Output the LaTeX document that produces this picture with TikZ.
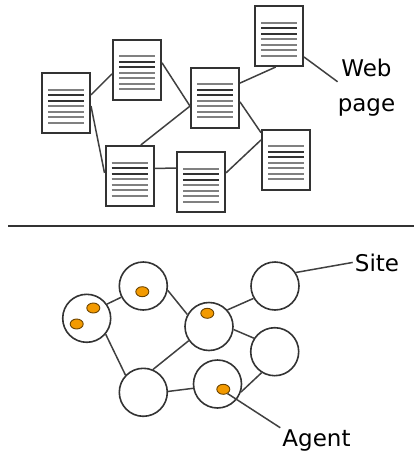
\documentclass[tikz,border=0pt]{standalone}
\usepackage{fontspec}
\setmainfont{DejaVu Sans}
\usepackage{tikz}
\usetikzlibrary{arrows.meta,positioning,calc,shapes.geometric}
\definecolor{Ink}{HTML}{333333}
\definecolor{Edge}{HTML}{404040}
\definecolor{RuleDark}{HTML}{333333}
\definecolor{RuleGray}{HTML}{808080}
\definecolor{Amber}{HTML}{F39A00}
\definecolor{AmberEdge}{HTML}{6B4300}

\tikzset{
  webpage/.style={draw=Ink,line width=2pt,fill=white,rectangle,
                  minimum width=48pt,minimum height=60pt,inner sep=0pt},
  site/.style={draw=Ink,line width=1.6pt,fill=white,circle,
               minimum size=48pt,inner sep=0pt},
  agent/.style={ellipse,draw=AmberEdge,line width=0.9pt,fill=Amber,
                minimum width=13pt,minimum height=10pt,inner sep=0pt},
  link/.style={draw=Edge,line width=1.5pt},
  label/.style={font=\fontsize{23}{35}\selectfont,text=black,inner sep=0pt}
}

\begin{document}
\begin{tikzpicture}[>=Latex,x=1pt,y=-1pt]
        \useasboundingbox (0,0) rectangle (414,455);
        % web pages
        \foreach \n/\x/\y in {d1/66/103,d2/137/69.5,d3/215/97.5,d4/129.5/176,
                              d5/201/182,d6/279/36,d7/286/159.5}{
          \node[webpage] (\n) at (\x,\y) {};
          \foreach \k/\c in {0/RuleGray,1/RuleDark,2/RuleDark,3/RuleGray,
                             4/RuleGray,5/RuleGray,6/RuleGray}{
            \draw[\c,line width=2pt]
                  ($(\n.north west)+(7,{17.5+5.55*\k})$) -- ++(36,0);
          }
        }
        \draw[link] (d1.18) -- (d2.190);
        \draw[link] (d1.-7) -- (d4.173);
        \draw[link] (d2.15) -- (d3.199);
        \draw[link] (d4.70) -- (d3.199);
        \draw[link] (d4.17) -- (d5.151);
        \draw[link] (d3.30) -- (d6.264);
        \draw[link] (d3.-10) -- (d7.133);
        \draw[link] (d5.20) -- (d7.142);
        \node[label,align=center] (web) at (366.5,87.75) {Web\\page};
        \draw[link] (d6.-40) -- ([yshift=6pt]web.west);
        % divider
        \draw[RuleDark,line width=2pt] (8,226) -- (414,226);
        % sites and agents
        \foreach \n/\x/\y in {c1/86.7/318.3,c2/143.3/286,c3/209/326.5,
                              c4/143.3/392.3,c5/217.5/384,c6/275/286,
                              c7/274.7/351.7}{
          \node[site] (\n) at (\x,\y) {};
        }
        \draw[link] (c1.35) -- (c2.207);
        \draw[link] (c1.-40) -- (c4.136);
        \draw[link] (c2.-10) -- (c3.151);
        \draw[link] (c4.67) -- (c3.215);
        \draw[link] (c4.2) -- (c5.190);
        \draw[link] (c3.42) -- (c6.210);
        \draw[link] (c3.-7) -- (c7.147);
        \draw[link] (c5.-19) -- (c7.238);
        \foreach \n/\x/\y in {a1/93.3/308,a2/76.7/324,a3/142.3/291.7,
                              a4/207.3/313.3,a5/223.3/389.3}{
          \node[agent] (\n) at (\x,\y) {};
        }
        \node[label,anchor=base,inner sep=2pt] (sitelbl) at (377,271) {Site};
        \draw[link] (c6.33) -- (sitelbl.west);
        \node[label,anchor=base,inner sep=2pt] (agentlbl) at (316.5,446.7) {Agent};
        \draw[link] (a5.-45) -- (agentlbl.north west);
      \end{tikzpicture}
\end{document}
